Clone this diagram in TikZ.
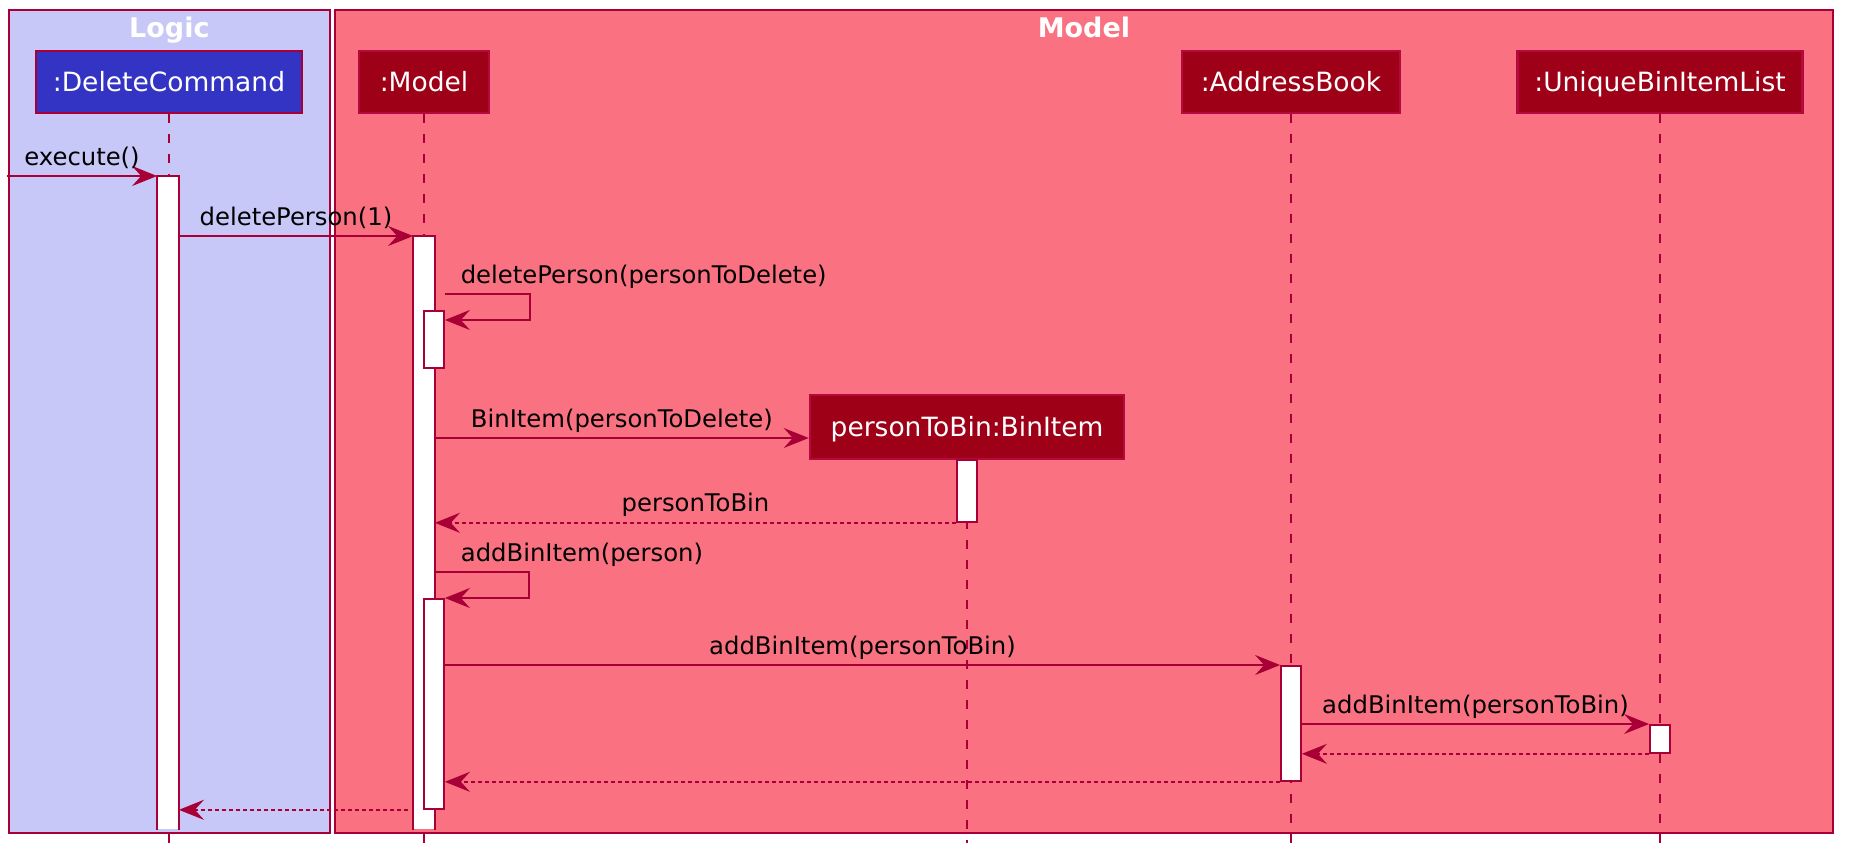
\documentclass[tikz,border=0pt]{standalone}
\usepackage{fontspec}
\setmainfont{DejaVu Sans}
\usetikzlibrary{arrows.meta}

\definecolor{umlLine}{RGB}{168,0,54}
\definecolor{objectLine}{RGB}{180,8,62}
\definecolor{logicFill}{RGB}{200,200,248}
\definecolor{modelFill}{RGB}{250,114,130}
\definecolor{commandFill}{RGB}{51,51,196}
\definecolor{objectFill}{RGB}{158,0,24}

\begin{document}
\begin{tikzpicture}[x=1pt,y=-1pt,
  frame/.style={draw=umlLine,line width=1.8pt,anchor=north west,inner sep=0pt},
  frametitle/.style={anchor=base,text=white,inner sep=0pt,font=\fontsize{27}{32}\selectfont\bfseries},
  participant/.style={draw=objectLine,line width=2.5pt,fill=objectFill,text=white,minimum height=62pt,
    inner sep=0pt,text height=19.3pt,text depth=0pt,font=\fontsize{26.5}{31}\selectfont},
  lifeline/.style={draw=umlLine,line width=1.8pt,dash pattern=on 9pt off 11pt},
  activation/.style={draw=umlLine,line width=1.8pt,fill=white,minimum width=20pt,anchor=north,inner sep=0pt},
  msg/.style={draw=umlLine,line width=1.8pt,-{Stealth[length=25pt,width=20pt,inset=9pt]}},
  reply/.style={msg,dash pattern=on 4pt off 3pt},
  msgtext/.style={anchor=base,inner sep=0pt,yshift=11pt,text=black,font=\fontsize{24.3}{29}\selectfont}]
\useasboundingbox (0,0) rectangle (1849,865);

% boxes
\node[frame,fill=logicFill,minimum width=321pt,minimum height=823pt] (logicBox) at (8,9) {};
\node[frame,fill=modelFill,minimum width=1498pt,minimum height=823pt] (modelBox) at (334,9) {};
\node[frametitle] at ([yshift=-28pt]logicBox.north) {Logic};
\node[frametitle] at ([yshift=-28pt]modelBox.north) {Model};

\node[participant,draw=umlLine,fill=commandFill,minimum width=266pt] (DeleteCommand) at (169,82) {:DeleteCommand};
\node[participant,minimum width=130pt] (Model) at (424,82) {:Model};
\node[participant,minimum width=218pt] (AddressBook) at (1291,82) {:AddressBook};
\node[participant,minimum width=285pt] (UniqueBinItemList) at (1660,82) {:UniqueBinItemList};
\node[participant,minimum width=314pt,minimum height=64pt] (personToBin) at (967,427) {personToBin:BinItem};

\coordinate (bottom) at (0,843);
\coordinate (entry) at (7,176);
\coordinate (newBin) at ([yshift=-11pt]personToBin.west);

\foreach \p in {DeleteCommand,Model,AddressBook,UniqueBinItemList,personToBin}
  \draw[lifeline] (\p.south) -- (\p.south |- bottom);

% activations
\node[activation,draw=none,minimum height=652pt] (actDC) at (168,176) {};
\draw[umlLine,line width=1.8pt] (actDC.south west) |- (actDC.north east) -- (actDC.south east);
\node[activation,draw=none,minimum height=592pt] (actModel) at (424,236) {};
\draw[umlLine,line width=1.8pt] (actModel.south west) |- (actModel.north east) -- (actModel.south east);
\node[activation,minimum height=57pt] (actModelA) at (434,310) {};
\node[activation,minimum height=62pt] (actBin) at (967,459) {};
\node[activation,minimum height=210pt] (actModelB) at (434,598) {};
\node[activation,minimum height=115pt] (actAB) at (1291,665) {};
\node[activation,minimum height=28pt] (actUBL) at (1660,724) {};

% messages
\draw[msg] (entry) -- (actDC.north west) node[msgtext,midway] {execute()};
\draw[msg] (actDC.east |- actModel.north) -- (actModel.north west) node[msgtext,midway] {deletePerson(1)};
\draw[msg] ([yshift=16pt]actModelA.north east) node[msgtext,anchor=base west,xshift=15pt] {deletePerson(personToDelete)}
  -- ++(85,0) |- ([yshift=-10pt]actModelA.north east);
\draw[msg] (actModel.east |- newBin) -- (newBin) node[msgtext,midway] {BinItem(personToDelete)};
\draw[reply] (actBin.south west) -- (actModel.east |- actBin.south) node[msgtext,midway] {personToBin};
\draw[msg] ([yshift=26pt]actModelB.north) node[msgtext,anchor=base west,xshift=26pt] {addBinItem(person)}
  -- ++(95,0) |- (actModelB.north east);
\draw[msg] (actModelB.east |- actAB.north) -- (actAB.north west) node[msgtext,midway] {addBinItem(personToBin)};
\draw[msg] (actAB.east |- actUBL.north) -- (actUBL.north west) node[msgtext,midway] {addBinItem(personToBin)};
\draw[reply] (actUBL.south west) -- (actAB.east |- actUBL.south);
\draw[reply] (actAB.south west) -- (actModelB.east |- actAB.south);
\draw[reply] ([xshift=-5pt]actModel.west |- actModelB.south) -- (actDC.east |- actModelB.south);
\end{tikzpicture}
\end{document}
